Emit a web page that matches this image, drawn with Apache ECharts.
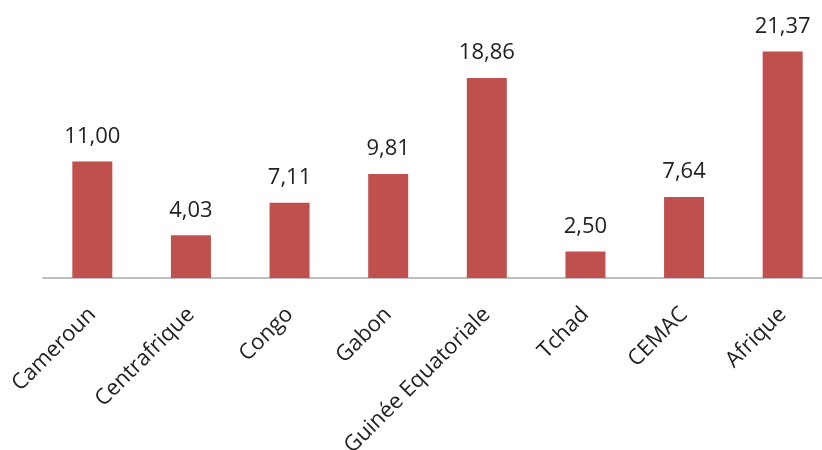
<!DOCTYPE html>
<html>
<head>
<meta charset="utf-8">
<script src="https://cdn.jsdelivr.net/npm/echarts@6/dist/echarts.min.js"></script>
<style>html,body{margin:0;padding:0;background:#fff}#c{width:822px;height:450px}</style>
</head>
<body>
<div id="c"></div>
<script>
const categories = ["Cameroun", "Centrafrique", "Congo", "Gabon", "Guinée Equatoriale", "Tchad", "CEMAC", "Afrique"];
const values = [11.00, 4.03, 7.11, 9.81, 18.86, 2.50, 7.64, 21.37];

const chart = echarts.init(document.getElementById('c'), null, {renderer: 'canvas'});
chart.setOption({
  animation: false,
  backgroundColor: '#ffffff',
  grid: {left: 43, top: 13, width: 789, height: 265, containLabel: false, outerBoundsMode: 'none'},
  xAxis: {
    type: 'category',
    data: categories,
    axisLine: {lineStyle: {color: '#BFBFBF', width: 2}},
    axisTick: {show: false},
    axisLabel: {rotate: 45, margin: 33, color: '#222222', fontSize: 22, fontFamily: 'Open Sans', interval: 0}
  },
  yAxis: {
    type: 'value', min: 0, max: 25,
    show: false,
    splitLine: {show: false}
  },
  series: [{
    type: 'bar',
    data: values,
    barWidth: 40,
    itemStyle: {color: '#C0504D'},
    label: {
      show: true, position: 'top', distance: 14,
      color: '#222222', fontSize: 22, fontFamily: 'Open Sans',
      formatter: p => p.value.toFixed(2).replace('.', ',')
    }
  }]
});
</script>
</body>
</html>
